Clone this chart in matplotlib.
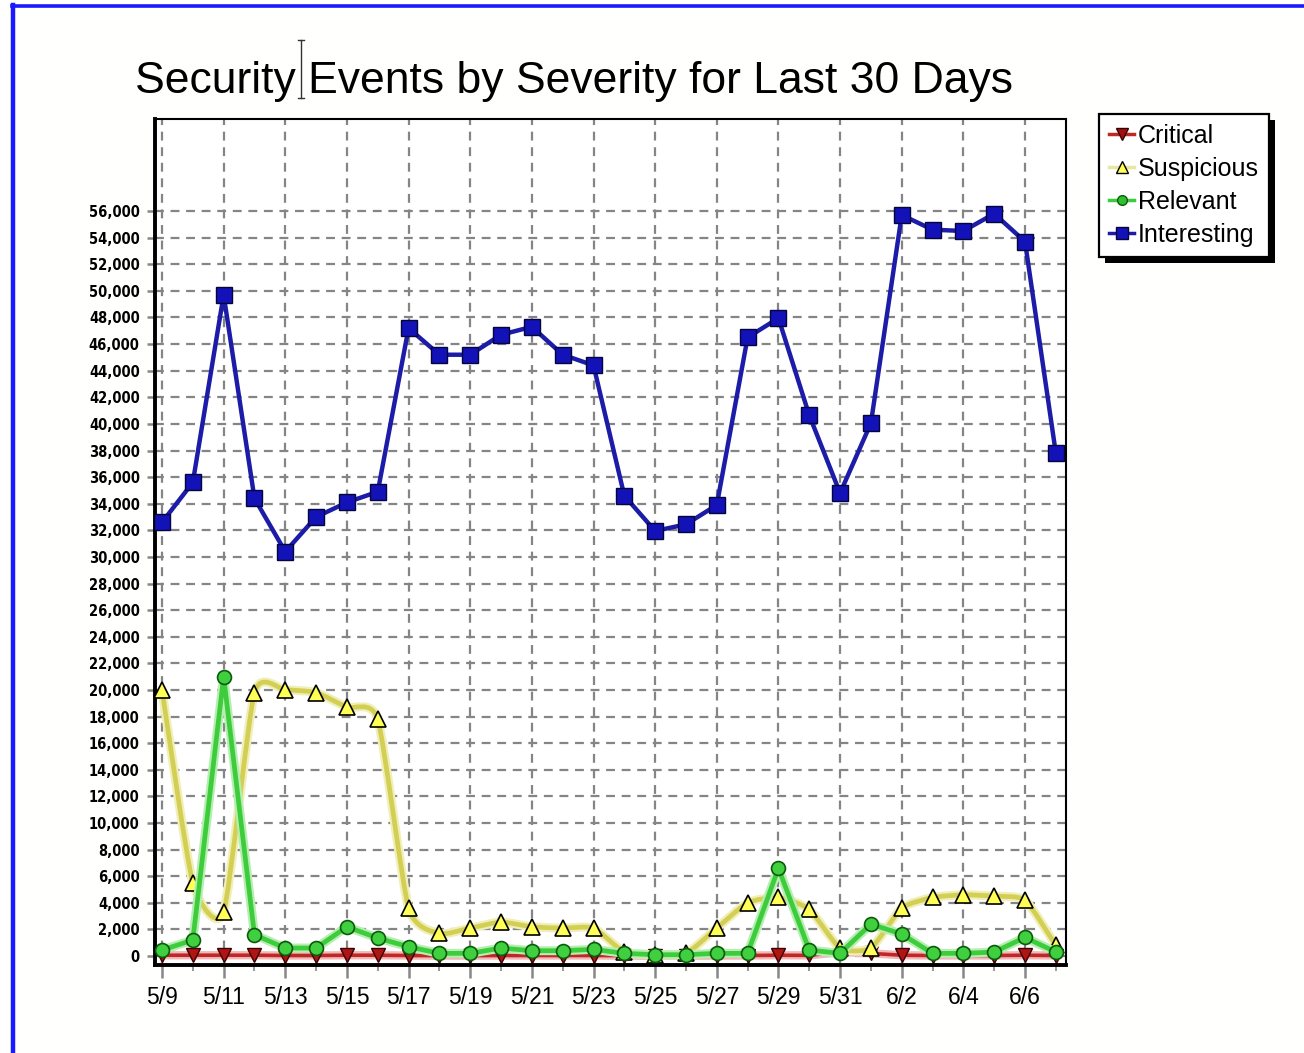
import numpy as np
import matplotlib
matplotlib.use("Agg")
import matplotlib.pyplot as plt
from matplotlib.path import Path
from matplotlib.patches import PathPatch, Rectangle
from matplotlib.lines import Line2D
from matplotlib.transforms import IdentityTransform

# Daily event counts, 5/9 through 6/7
days = ["5/9", "5/10", "5/11", "5/12", "5/13", "5/14", "5/15", "5/16", "5/17", "5/18",
        "5/19", "5/20", "5/21", "5/22", "5/23", "5/24", "5/25", "5/26", "5/27", "5/28",
        "5/29", "5/30", "5/31", "6/1", "6/2", "6/3", "6/4", "6/5", "6/6", "6/7"]

critical = [60, 60, 60, 60, 40, 40, 60, 60, 40, 30, 30, 40, 40, 40, 40, 30, 20, 20, 30, 40,
            60, 50, 300, 200, 60, 40, 40, 40, 60, 40]
suspicious = [20000, 5500, 3300, 19800, 20000, 19800, 18700, 17800, 3600, 1700,
              2100, 2550, 2200, 2100, 2100, 300, 100, 200, 2100, 4000,
              4400, 3500, 600, 600, 3600, 4400, 4600, 4500, 4200, 800]
relevant = [450, 1200, 21000, 1600, 600, 600, 2200, 1350, 700, 200,
            200, 600, 400, 400, 500, 200, 100, 100, 200, 200,
            6600, 450, 200, 2400, 1650, 200, 200, 300, 1400, 300]
interesting = [32600, 35600, 49700, 34400, 30400, 33000, 34100, 34900, 47200, 45200,
               45200, 46700, 47300, 45200, 44400, 34600, 31950, 32450, 33900, 46500,
               47950, 40650, 34800, 40050, 55700, 54600, 54500, 55800, 53700, 37800]

series_names = ["Critical", "Suspicious", "Relevant", "Interesting"]
y_ticks = list(range(0, 56001, 2000))

W, H = 1304, 1053
fig = plt.figure(figsize=(W / 100, H / 100), dpi=100, facecolor="#fffffd")

# frame of the window the chart sits in
fig.add_artist(Line2D([13.5 / W, 13.5 / W], [0, 1 - 5 / H], color="#1a1aff", lw=3.2))
fig.add_artist(Line2D([12 / W, 1], [1 - 5.5 / H, 1 - 5.5 / H], color="#1a1aff", lw=2.6))

ax = fig.add_axes([155 / W, 1 - 965 / H, (1066 - 155) / W, (965 - 119) / H])
ax.set_facecolor("white")
x = np.arange(len(days))
ax.set_xlim(-0.227, 29.33)
ax.set_ylim(-674, 62919)

# grid
ax.set_yticks(y_ticks)
ax.set_yticklabels([f"{v:,}" for v in y_ticks])
ax.set_xticks(x[::2])
ax.set_xticklabels(days[::2])
ax.set_xticks(x, minor=True)
ax.grid(True, which="major", color="#858585", lw=1.6, linestyle=(0, (4, 3)), zorder=0)
ax.set_axisbelow(True)

for side, lw in (("left", 2.8), ("bottom", 2.8), ("top", 1.5), ("right", 1.5)):
    ax.spines[side].set_linewidth(lw)
    ax.spines[side].set_color("black")

ax.tick_params(axis="y", which="major", length=6, width=1.8, color="#888888",
               pad=5, labelsize=10.5)
ax.tick_params(axis="x", which="major", length=9, width=1.8, color="#888888",
               pad=6, labelsize=16.5)
ax.tick_params(axis="x", which="minor", length=4, width=1.4, color="#999999")
for lab in ax.get_yticklabels():
    lab.set_family("DejaVu Sans")
    lab.set_fontstretch("condensed")
    lab.set_fontweight("bold")
for lab in ax.get_xticklabels():
    lab.set_family(["Liberation Sans", "DejaVu Sans"])


def smooth_path(xs, ys, k=0.1):
    """Cubic Bezier path through every point (Catmull-Rom style tangents)."""
    verts = [(xs[0], ys[0])]
    codes = [Path.MOVETO]
    n = len(xs)
    for i in range(n - 1):
        a = i - 1 if i > 0 else i
        d = i + 2 if i + 2 < n else i + 1
        c1 = (xs[i] + (xs[i + 1] - xs[a]) * k, ys[i] + (ys[i + 1] - ys[a]) * k)
        c2 = (xs[i + 1] - (xs[d] - xs[i]) * k, ys[i + 1] - (ys[d] - ys[i]) * k)
        verts += [c1, c2, (xs[i + 1], ys[i + 1])]
        codes += [Path.CURVE4] * 3
    return Path(verts, codes)


# Critical
ax.plot(x, critical, color="#f2b8b8", lw=6, zorder=2, solid_capstyle="round")
ax.plot(x, critical, color="#c02828", lw=2.6, zorder=2.1)
ax.plot(x, critical, linestyle="none", marker="v", ms=10, mfc="#b01414",
        mec="#3a0000", mew=1.0, zorder=2.2)

# Suspicious (smoothed)
sp = smooth_path(x.astype(float), np.array(suspicious, float))
ax.add_patch(PathPatch(sp, fill=False, edgecolor="#f0efb8", lw=6.5, zorder=3))
ax.add_patch(PathPatch(sp, fill=False, edgecolor="#d3cf55", lw=3.4, zorder=3.1))
ax.plot(x, suspicious, linestyle="none", marker="^", ms=11, mfc="#ffff55",
        mec="black", mew=1.2, zorder=3.2)

# Relevant
ax.plot(x, relevant, color="#b6eeb0", lw=6.5, zorder=4)
ax.plot(x, relevant, color="#3ccc3c", lw=3.4, zorder=4.1)
ax.plot(x, relevant, linestyle="none", marker="o", ms=10, mfc="#3fcf3f",
        mec="#0c5a0c", mew=1.2, zorder=4.2)

# Interesting
ax.plot(x, interesting, color="#1c1ca8", lw=3.2, zorder=5)
ax.plot(x, interesting, linestyle="none", marker="s", ms=11, mfc="#1212b8",
        mec="#05053a", mew=1.0, zorder=5.1)

# title
fig.text(135 / W, 1 - 82 / H, "Security Events by Severity for Last 30 Days",
         ha="left", va="center", fontsize=32, family=["Liberation Sans", "DejaVu Sans"])

# text cursor
cx = 300.5 / W
fig.add_artist(Line2D([cx, cx], [1 - 40 / H, 1 - 98 / H], color="#333333", lw=1.0))
fig.add_artist(Line2D([cx - 3 / W, cx + 3 / W], [1 - 40 / H, 1 - 40 / H], color="#333333", lw=1.0))
fig.add_artist(Line2D([cx - 3 / W, cx + 3 / W], [1 - 98 / H, 1 - 98 / H], color="#333333", lw=1.0))

# legend
handles = [
    Line2D([], [], color="#c02828", lw=2.5, marker="v", ms=8, mfc="#a01010", mec="#3a0000"),
    Line2D([], [], color="#e8e6a0", lw=2.5, marker="^", ms=8, mfc="#ffff55", mec="black"),
    Line2D([], [], color="#3ccc3c", lw=2.5, marker="o", ms=7, mfc="#2fbf2f", mec="#0c5a0c"),
    Line2D([], [], color="#1c1ca8", lw=2.5, marker="s", ms=8, mfc="#1212b8", mec="#05053a"),
]
leg = fig.legend(handles, series_names, loc="upper left",
                 bbox_to_anchor=(1099 / W, 1 - 114 / H), borderaxespad=0,
                 frameon=True, fancybox=False, edgecolor="black", framealpha=1,
                 borderpad=0.4, handlelength=1.0, handletextpad=0.15,
                 labelspacing=0.36,
                 prop={"family": ["Liberation Sans", "DejaVu Sans"], "size": 18})
leg.get_frame().set_linewidth(1.6)
leg.set_zorder(6)

fig.canvas.draw()
bb = leg.get_window_extent()
fig.add_artist(Rectangle((bb.x0 + 6, bb.y0 - 6), bb.width, bb.height,
                         transform=IdentityTransform(), facecolor="black",
                         edgecolor="none", zorder=5))

fig.savefig("out.png", dpi=100, facecolor=fig.get_facecolor())
